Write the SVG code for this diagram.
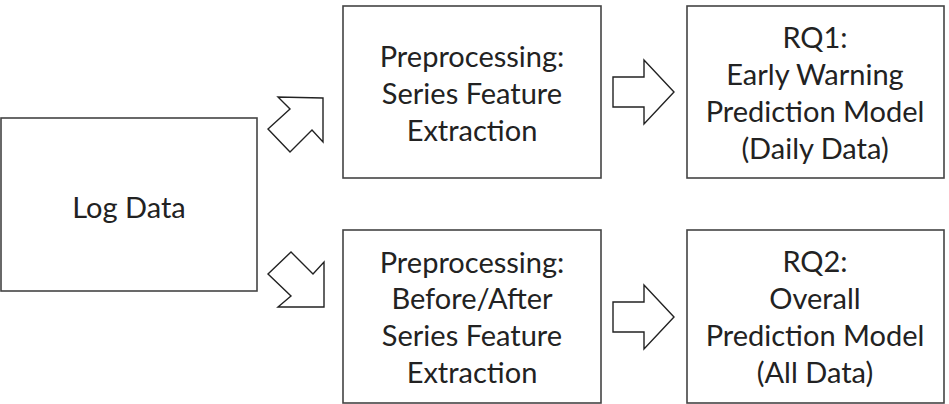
<svg xmlns="http://www.w3.org/2000/svg" width="949" height="404" viewBox="0 0 949 404">
<style>
.box{fill:#fff;stroke:#444;stroke-width:1.6}
.arr{fill:#fff;stroke:#222;stroke-width:1.4;stroke-linejoin:miter}
text{font-family:Lato,"Open Sans",sans-serif;font-size:29px;fill:#222;text-anchor:middle}
</style>
<rect width="949" height="404" fill="#fff"/>
<g id="log"><rect class="box" x="1" y="118" width="256" height="173"/><text x="129" y="218">Log Data</text></g>
<g id="pre1"><rect class="box" x="343" y="6" width="258" height="172"/>
<text x="472" y="67">Preprocessing:</text><text x="472" y="104">Series Feature</text><text x="472" y="141">Extraction</text></g>
<g id="rq1"><rect class="box" x="687" y="6" width="257" height="172"/>
<text x="815" y="48">RQ1:</text><text x="815" y="85">Early Warning</text><text x="815" y="122">Prediction Model</text><text x="815" y="159">(Daily Data)</text></g>
<g id="pre2"><rect class="box" x="343" y="230" width="258" height="173"/>
<text x="472" y="273">Preprocessing:</text><text x="472" y="309">Before/After</text><text x="472" y="346">Series Feature</text><text x="472" y="383">Extraction</text></g>
<g id="rq2"><rect class="box" x="687" y="230" width="257" height="173"/>
<text x="815" y="272">RQ2:</text><text x="815" y="309">Overall</text><text x="815" y="346">Prediction Model</text><text x="815" y="383">(All Data)</text></g>
<g id="connectors">
<polygon class="arr" points="323,98 278,97 290,109 268,129 290,152 312,130 323,142"/>
<polygon class="arr" points="291,252 268,274 291,296 278,307 324,307 324,262 313,274"/>
<polygon class="arr" points="613,77 644,77 644,60 674,92 644,124 644,107 613,107"/>
<polygon class="arr" points="613,302 644,302 644,285 674,317 644,349 644,332 613,332"/>
</g>
</svg>
